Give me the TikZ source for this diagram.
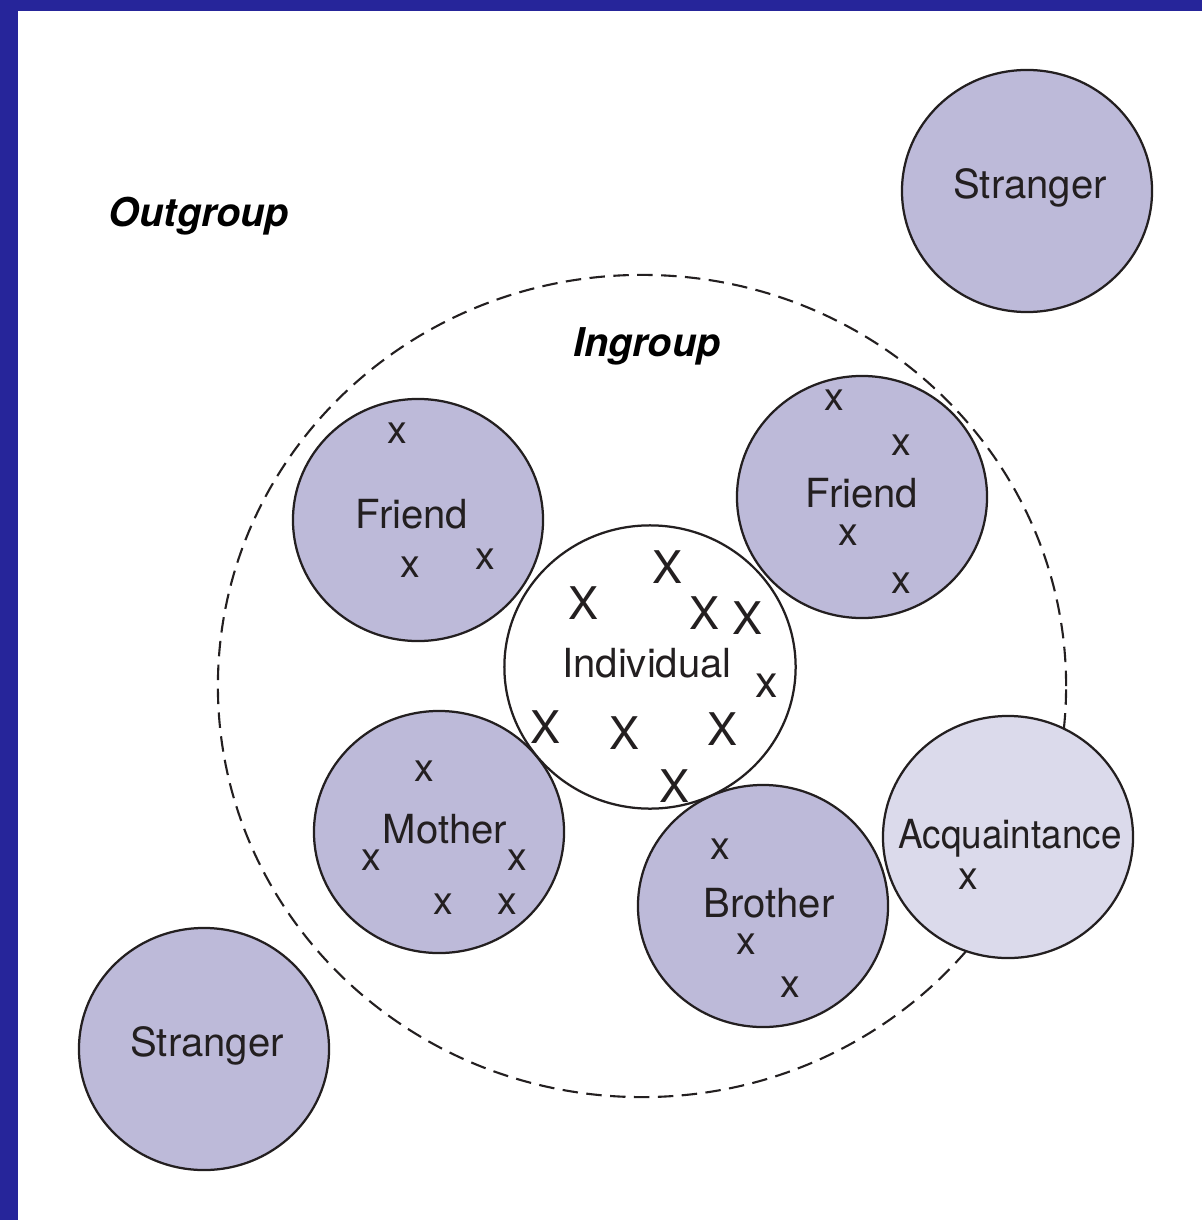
\documentclass[tikz,border=0pt]{standalone}
\usepackage{fontspec}
\setmainfont{TeX Gyre Heros}
\usetikzlibrary{shapes.geometric}
\definecolor{frameblue}{HTML}{26259A}
\definecolor{groupfill}{HTML}{BDBAD9}
\definecolor{acqfill}{HTML}{DBDAEB}
\definecolor{inkgray}{HTML}{231F20}
\begin{document}
\begin{tikzpicture}[x=0.025cm, y=-0.025cm,
  person/.style={ellipse, draw=inkgray, line width=1.6pt, fill=groupfill, minimum width=6.25cm, minimum height=6.05cm, inner sep=0pt},
  lbl/.style={anchor=base, inner sep=0pt, text=inkgray, font=\fontsize{28.5}{33}\selectfont},
  grouplbl/.style={anchor=base, inner sep=0pt, text=black, font=\fontsize{28.2}{33}\selectfont\bfseries\itshape},
  xsmall/.style={inner sep=0pt, text=inkgray, font=\fontsize{28}{33}\selectfont},
  xbig/.style={inner sep=0pt, text=inkgray, font=\fontsize{32}{36}\selectfont}]
\useasboundingbox (0,0) rectangle (1202,1220);
\fill[frameblue] (0,0) rectangle (1202,11);
\fill[frameblue] (0,0) rectangle (18,1220);

\node[ellipse, draw=inkgray, line width=1.5pt, dash pattern=on 11pt off 6pt, minimum width=21.2cm, minimum height=20.55cm, inner sep=0pt] (ingroup) at (642,686){};

\node[person] (strangerR) at (1027,191){};
\node[person] (strangerL) at (204,1049){};
\node[person] (friendL) at (418,520){};
\node[person] (friendR) at (862,497){};
\node[person] (mother) at (439,832){};
\node[person] (brother) at (763,906){};
\node[person, fill=acqfill] (acquaint) at (1008,837){};
\node[person, fill=white, minimum width=7.28cm, minimum height=7.08cm] (indiv) at (650,667){};

\node[grouplbl] (outgroupT) at (199,227){Outgroup};
\node[grouplbl] (ingroupT) at (647,356){Ingroup};
\node[lbl] (strangerRT) at (1030,199){Stranger};
\node[lbl] (strangerLT) at (207,1056){Stranger};
\node[lbl] (friendLT) at (412,528){Friend};
\node[lbl] (friendRT) at (862,507){Friend};
\node[lbl] (motherT) at (445,843){Mother};
\node[lbl] (brotherT) at (769,917){Brother};
\node[lbl] (acquaintT) at (1010,848){\scalebox{0.92}[1]{Acquaintance}};
\node[lbl] (indivT) at (647,677){Individual};

% friend left
\node[xsmall] (fl1) at (397,433){x};
\node[xsmall] (fl2) at (410,567){x};
\node[xsmall] (fl3) at (485,559){x};
% friend right
\node[xsmall] (fr1) at (834,400){x};
\node[xsmall] (fr2) at (901,445){x};
\node[xsmall] (fr3) at (848,535){x};
\node[xsmall] (fr4) at (901,583){x};
% mother
\node[xsmall] (mo1) at (424,771){x};
\node[xsmall] (mo2) at (371,860){x};
\node[xsmall] (mo3) at (517,860){x};
\node[xsmall] (mo4) at (443,904){x};
\node[xsmall] (mo5) at (507,904){x};
% brother
\node[xsmall] (br1) at (720,849){x};
\node[xsmall] (br2) at (746,944){x};
\node[xsmall] (br3) at (790,987){x};
% acquaintance
\node[xsmall] (ac1) at (968,879){x};
% individual
\node[xbig] (in1) at (667,567){X};
\node[xbig] (in2) at (583,603){X};
\node[xbig] (in3) at (704,613){X};
\node[xbig] (in4) at (747,618){X};
\node[xbig] (in5) at (545,727){X};
\node[xbig] (in6) at (624,733){X};
\node[xbig] (in7) at (722,729){X};
\node[xbig] (in8) at (674,786){X};
\node[xbig] (in9) at (767,686){x};

\end{tikzpicture}
\end{document}
